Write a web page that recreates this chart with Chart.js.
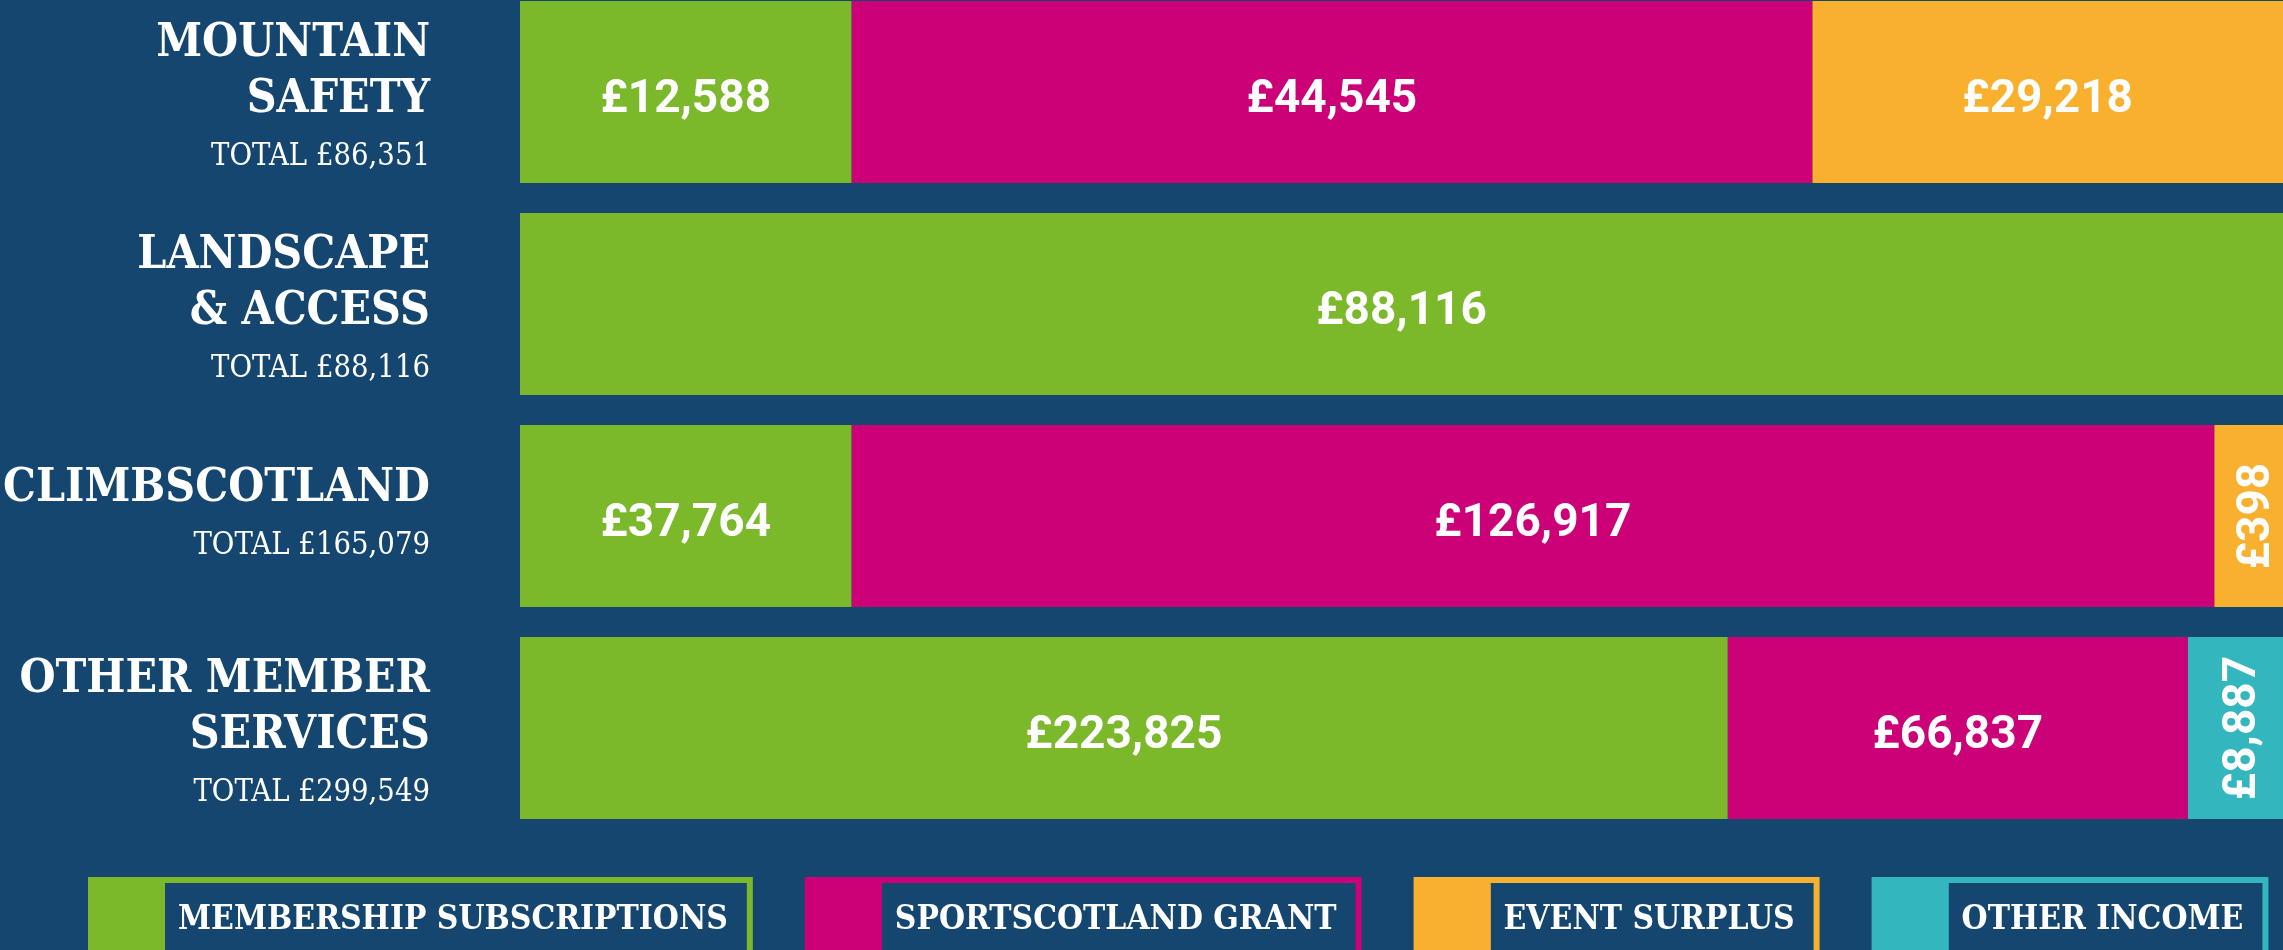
<!DOCTYPE html>
<html>
<head>
<meta charset="utf-8">
<script src="https://cdn.jsdelivr.net/npm/chart.js@4"></script>
<style>
  html, body { margin: 0; padding: 0; background: #15466f; }
  #wrap { position: relative; width: 2283px; height: 950px; overflow: hidden; background: #15466f; }
  #chart { position: absolute; left: 0; top: -14px; }
</style>
</head>
<body>
<div id="wrap"><canvas id="chart" width="2283" height="964"></canvas></div>
<script>
// Rows (categories), one array of lines per row label
const categoryLines = [
    ["MOUNTAIN", "SAFETY"],
    ["LANDSCAPE", "& ACCESS"],
    ["CLIMBSCOTLAND"],
    ["OTHER MEMBER", "SERVICES"]
];

// Series names (legend)
const seriesNames = ["MEMBERSHIP SUBSCRIPTIONS", "SPORTSCOTLAND GRANT", "EVENT SURPLUS", "OTHER INCOME"];

// Amounts printed in the segments (£)
const membershipAmounts = [12588, 88116, 37764, 223825];
const sportscotlandAmounts = [44545, 0, 126917, 66837];
const eventSurplusAmounts = [29218, 0, 398, 0];
const otherIncomeAmounts = [0, 0, 0, 8887];

// Segment lengths as drawn in the graphic (% of the row)
const membershipShare = [18.8, 100, 18.8, 68.5];
const sportscotlandShare = [54.5, 0, 77.3, 26.1];
const eventSurplusShare = [26.7, 0, 3.9, 0];
const otherIncomeShare = [0, 0, 0, 5.4];

const seriesColors = ["#7bb82a", "#cc0077", "#f9b02e", "#33b6bd"];

const seriesAmounts = [membershipAmounts, sportscotlandAmounts, eventSurplusAmounts, otherIncomeAmounts];
const seriesShares = [membershipShare, sportscotlandShare, eventSurplusShare, otherIncomeShare];

function money(n) {
    return "£" + n.toLocaleString("en-GB");
}

// draws text squeezed horizontally (condensed look)
function squeezedText(ctx, text, x, y, squeeze) {
    ctx.save();
    ctx.translate(x, y);
    ctx.scale(squeeze, 1);
    ctx.fillText(text, 0, 0);
    ctx.restore();
}

const rowLabels = {
    id: "rowLabels",
    afterDatasetsDraw(chart) {
        const ctx = chart.ctx;
        const yScale = chart.scales.y;
        const left = chart.chartArea.left;

        // amounts inside the bar segments
        chart.data.datasets.forEach((ds, di) => {
            const meta = chart.getDatasetMeta(di);
            meta.data.forEach((bar, i) => {
                const amount = seriesAmounts[di][i];
                if (!amount) return;
                const text = money(amount);
                const w = Math.abs(bar.x - bar.base);
                ctx.save();
                ctx.font = "bold 46px Roboto";
                ctx.fillStyle = "#ffffff";
                ctx.textAlign = "center";
                ctx.textBaseline = "alphabetic";
                ctx.translate((bar.x + bar.base) / 2, bar.y);
                if (ctx.measureText(text).width + 24 > w) ctx.rotate(-Math.PI / 2); // narrow segment
                ctx.fillText(text, 0, 20);
                ctx.restore();
            });
        });

        // category names + totals on the left
        ctx.save();
        ctx.fillStyle = "#ffffff";
        ctx.textAlign = "right";
        ctx.textBaseline = "alphabetic";
        const rightX = left - 90;
        categoryLines.forEach((lines, i) => {
            const y = yScale.getPixelForValue(i);
            let base = y - 15 - 21 * (lines.length - 1);
            ctx.font = "bold 46px 'DejaVu Serif'";
            lines.forEach((line, k) => {
                squeezedText(ctx, line, rightX, base + k * 56, 0.9);
            });
            const total = seriesAmounts.reduce((s, arr) => s + arr[i], 0);
            ctx.font = "31px 'DejaVu Serif'";
            squeezedText(ctx, "TOTAL " + money(total), rightX, base + (lines.length - 1) * 56 + 53, 0.89);
        });
        ctx.restore();
    }
};

const boxLegend = {
    id: "boxLegend",
    afterDraw(chart) {
        const ctx = chart.ctx;
        const top = chart.chartArea.bottom + 43;
        const h = 73;
        const squeeze = 0.88;
        let x = 88;
        ctx.save();
        ctx.font = "bold 34px 'DejaVu Serif'";
        ctx.textBaseline = "alphabetic";
        ctx.textAlign = "left";
        seriesNames.forEach((name, i) => {
            const color = seriesColors[i];
            const textW = ctx.measureText(name).width * squeeze;
            const swatchW = 77;
            const boxW = 13 + textW + 25;
            // swatch
            ctx.fillStyle = color;
            ctx.fillRect(x, top, swatchW, h);
            // outline box
            ctx.strokeStyle = color;
            ctx.lineWidth = 6;
            ctx.strokeRect(x + swatchW - 3, top + 3, boxW, h);
            ctx.fillStyle = "#ffffff";
            squeezedText(ctx, name, x + swatchW + 13, top + 52, squeeze);
            x += swatchW + boxW + 52;
        });
        ctx.restore();
    }
};

const ctx = document.getElementById("chart").getContext("2d");
const myChart = new Chart(ctx, {
    type: "bar",
    data: {
        labels: categoryLines.map(l => l.join(" ")),
        datasets: seriesNames.map((name, i) => ({
            label: name,
            data: seriesShares[i],
            backgroundColor: seriesColors[i],
            borderWidth: 0,
            categoryPercentage: 182 / 212,
            barPercentage: 1
        }))
    },
    options: {
        indexAxis: "y",
        responsive: false,
        animation: false,
        layout: { padding: { left: 520, right: 0, top: 0, bottom: 116 } },
        scales: {
            x: { stacked: true, min: 0, max: 100, display: false },
            y: { stacked: true, display: false }
        },
        plugins: {
            legend: { display: false },
            tooltip: { enabled: false }
        }
    },
    plugins: [rowLabels, boxLegend]
});
</script>
</body>
</html>
